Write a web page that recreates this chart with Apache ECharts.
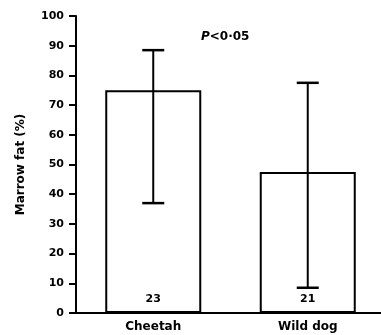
<!DOCTYPE html>
<html><head><meta charset="utf-8">
<script src="https://cdn.jsdelivr.net/npm/echarts@6/dist/echarts.min.js"></script>
<style>html,body{margin:0;padding:0;background:#fff}#c{width:381px;height:335px}</style>
</head><body><div id="c"></div>
<script>
const categories = ['Cheetah', 'Wild dog'];
const meanValues = [75, 47.5];
const upperValues = [88.5, 77.5];
const lowerValues = [37, 8.5];
const sampleSizes = ['23', '21'];
const yTicks = [0, 10, 20, 30, 40, 50, 60, 70, 80, 90, 100];

const chart = echarts.init(document.getElementById('c'));
const font = '"DejaVu Sans", sans-serif';
chart.setOption({
  animation: false,
  backgroundColor: '#fff',
  grid: {left: 76, width: 309, top: 16, bottom: 22, outerBoundsMode: 'none', containLabel: false},
  xAxis: {
    type: 'category', data: categories,
    axisLine: {lineStyle: {color: '#000', width: 2}},
    axisTick: {show: false},
    axisLabel: {color: '#000', fontSize: 12, fontWeight: 'bold', fontFamily: font, margin: 8}
  },
  yAxis: {
    type: 'value', min: yTicks[0], max: yTicks[yTicks.length - 1], interval: 10,
    name: 'Marrow fat (%)', nameLocation: 'middle', nameGap: 49,
    nameTextStyle: {color: '#000', fontSize: 12, fontWeight: 'bold', fontFamily: font},
    axisLine: {show: true, lineStyle: {color: '#000', width: 2}},
    axisTick: {show: true, length: 7, lineStyle: {color: '#000', width: 2}},
    axisLabel: {color: '#000', fontSize: 11, fontWeight: 'bold', fontFamily: font, margin: 12},
    splitLine: {show: false}
  },
  series: [
    {
      type: 'bar', data: meanValues, barWidth: 96,
      itemStyle: {color: '#fff', borderColor: '#000', borderWidth: 2}
    },
    {
      type: 'custom',
      data: categories.map((c, i) => [i, lowerValues[i], upperValues[i]]),
      renderItem: function (params, api) {
        const x = api.coord([api.value(0), 0])[0];
        const lo = api.coord([api.value(0), api.value(1)])[1];
        const hi = api.coord([api.value(0), api.value(2)])[1];
        const hw = 11;
        const st = {stroke: '#000', lineWidth: 2};
        return {type: 'group', children: [
          {type: 'line', shape: {x1: x, y1: lo, x2: x, y2: hi}, style: st},
          {type: 'line', shape: {x1: x - hw, y1: lo, x2: x + hw, y2: lo}, style: {stroke: '#000', lineWidth: 2.5}},
          {type: 'line', shape: {x1: x - hw, y1: hi, x2: x + hw, y2: hi}, style: {stroke: '#000', lineWidth: 2.5}}
        ]};
      },
      z: 5
    },
    {
      type: 'custom',
      data: categories.map((c, i) => [i, 4.7, sampleSizes[i]]),
      renderItem: function (params, api) {
        const p = api.coord([api.value(0), api.value(1)]);
        return {type: 'text', style: {x: p[0], y: p[1], text: sampleSizes[params.dataIndex],
          fill: '#000', font: 'bold 11px ' + font, align: 'center', verticalAlign: 'middle'}};
      },
      z: 6
    }
  ],
  graphic: [{
    type: 'text', left: 201, top: 31,
    style: {
      rich: {
        i: {fontStyle: 'italic', fontWeight: 'bold', fontSize: 12, fontFamily: font, fill: '#000'},
        n: {fontSize: 12, fontWeight: 'bold', fontFamily: font, fill: '#000'}
      },
      text: '{i|P}{n|<0·05}'
    }
  }]
});
</script></body></html>
